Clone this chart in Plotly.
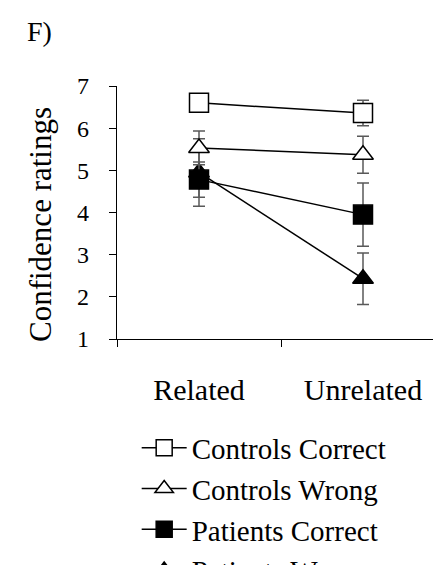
import plotly.graph_objects as go

categories = ["Related", "Unrelated"]
series_names = ["Controls Correct", "Controls Wrong", "Patients Correct", "Patients Wrong"]
controls_correct = [6.60, 6.36]
controls_correct_err = [0.19, 0.30]
controls_wrong = [5.53, 5.37]
controls_wrong_err = [0.40, 0.44]
patients_correct = [4.78, 3.95]
patients_correct_err = [0.42, 0.75]
patients_wrong = [4.95, 2.43]
patients_wrong_err = [0.80, 0.61]
y_ticks = [1, 2, 3, 4, 5, 6, 7]

FONT = "Liberation Serif"

styles = {
    "Controls Correct": dict(symbol="square", fill="white", size=19),
    "Controls Wrong": dict(symbol="triangle-up", fill="white", size=18),
    "Patients Correct": dict(symbol="square", fill="black", size=19),
    "Patients Wrong": dict(symbol="triangle-up", fill="black", size=18),
}
data = {
    "Controls Correct": (controls_correct, controls_correct_err),
    "Controls Wrong": (controls_wrong, controls_wrong_err),
    "Patients Correct": (patients_correct, patients_correct_err),
    "Patients Wrong": (patients_wrong, patients_wrong_err),
}

fig = go.Figure()
# draw order: patients wrong at bottom, controls correct on top
for rank, name in reversed(list(enumerate(series_names))):
    vals, errs = data[name]
    st = styles[name]
    fig.add_trace(go.Scatter(
        x=categories, y=vals, name=name, mode="lines+markers",
        legendrank=rank + 1,
        line=dict(color="black", width=1.5),
        marker=dict(symbol=st["symbol"], size=st["size"], color=st["fill"],
                    line=dict(color="black", width=1.5)),
        error_y=dict(type="data", array=errs, visible=True, color="#595959",
                     thickness=1.5, width=6),
    ))

fig.update_layout(
    width=441, height=565,
    margin=dict(l=109, r=4, t=78, b=234, autoexpand=False),
    paper_bgcolor="white", plot_bgcolor="white",
    font=dict(family=FONT, color="black"),
    showlegend=True,
    legend=dict(
        x=0.06, y=-0.33, xanchor="left", yanchor="top",
        font=dict(family=FONT, size=29, color="black"),
        itemwidth=45, bgcolor="rgba(0,0,0,0)",
    ),
    xaxis=dict(
        type="category", range=[-0.5, 1.5], tickson="boundaries",
        showline=True, linecolor="black", linewidth=1.3,
        ticks="outside", ticklen=7, tickcolor="black", tickwidth=1.3,
        showgrid=False, zeroline=False, automargin=False,
        tickfont=dict(family=FONT, size=30, color="black"),
        ticklabelstandoff=24,
    ),
    yaxis=dict(
        range=[1, 7], tickvals=y_ticks,
        showline=True, linecolor="black", linewidth=1.3,
        ticks="outside", ticklen=7, tickcolor="black", tickwidth=1.3,
        showgrid=False, zeroline=False, automargin=False,
        tickfont=dict(family=FONT, size=24, color="black"),
        ticklabelstandoff=15,
    ),
    annotations=[
        dict(text="Confidence ratings", textangle=-90, xref="paper", yref="paper",
             x=(33 - 109) / 328, y=(331 - 217) / 253, xanchor="center", yanchor="middle",
             showarrow=False, font=dict(family=FONT, size=31, color="black")),
        dict(text="F)", xref="paper", yref="paper",
             x=(17 - 109) / 328, y=(331 - 24) / 253, xanchor="left", yanchor="middle",
             showarrow=False, font=dict(family=FONT, size=28, color="black")),
    ],
)

fig.write_html("out.html")
